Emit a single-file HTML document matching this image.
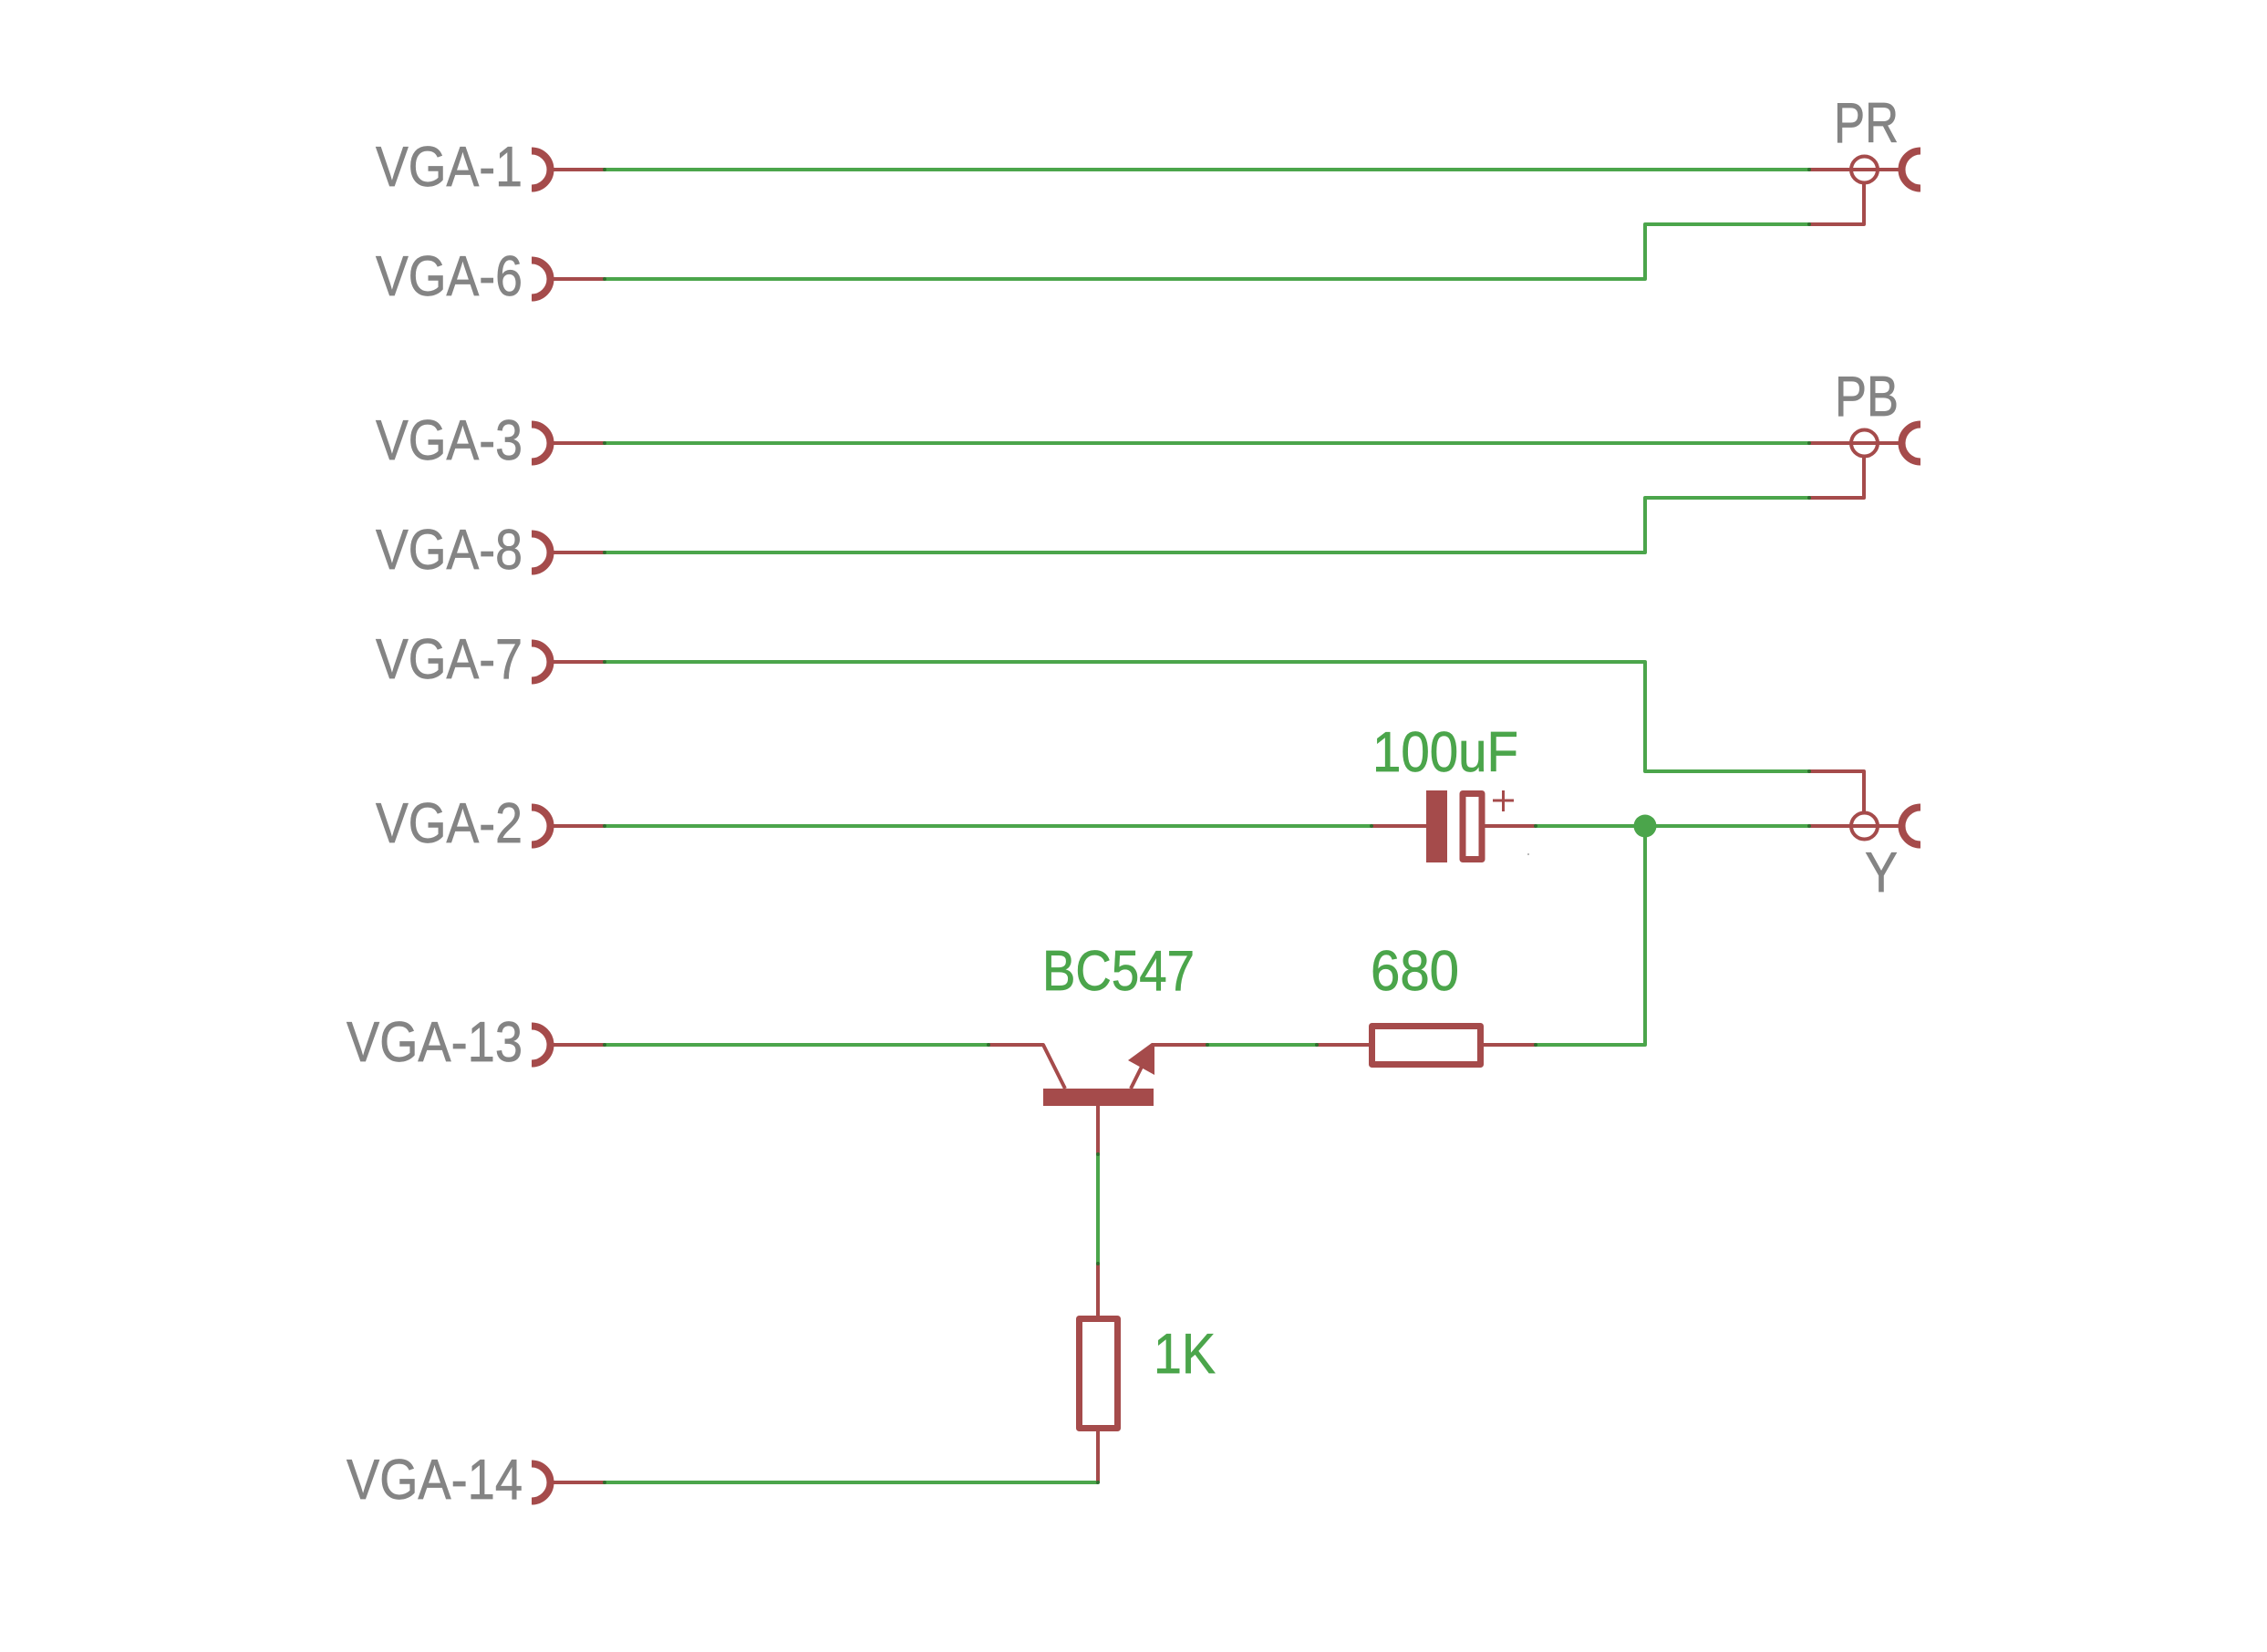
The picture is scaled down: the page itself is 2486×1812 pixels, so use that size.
<!DOCTYPE html>
<html><head><meta charset="utf-8"><title>VGA schematic</title>
<style>html,body{margin:0;padding:0;background:#fff}svg{display:block}
text{font-family:"Liberation Sans",sans-serif;font-size:62px;stroke-width:.7px}
.g{fill:#848484;stroke:#848484}.t{fill:#4ba54b;stroke:#4ba54b}</style></head><body>
<svg xmlns="http://www.w3.org/2000/svg" width="2486" height="1812" viewBox="0 0 2486 1812">
<rect width="2486" height="1812" fill="#fff"/>
<g fill="none" stroke="#4ba54b" stroke-width="4" stroke-linejoin="round">
<path d="M663 186H1984"/>
<path d="M663 306H1804V246H1984"/>
<path d="M663 486H1984"/>
<path d="M663 606H1804V546H1984"/>
<path d="M663 726H1804V846H1984"/>
<path d="M663 906H1504"/>
<path d="M1684 906H1984"/>
<path d="M663 1146H1084"/>
<path d="M1324 1146H1444"/>
<path d="M1684 1146H1804V906"/>
<path d="M1204 1266V1386"/>
<path d="M663 1626H1204"/>
</g>
<circle cx="1804" cy="906" r="12.5" fill="#4ba54b"/>
<g fill="none" stroke="#a54b4b" stroke-width="4" stroke-linejoin="round">
<path d="M607 186H663M607 306H663M607 486H663M607 606H663M607 726H663M607 906H663M607 1146H663M607 1626H663"/>
<path d="M1984 186H2082M1984 246H2044V200"/>
<path d="M1984 486H2082M1984 546H2044V500"/>
<path d="M1984 906H2082M1984 846H2044V890"/>
<circle cx="2044.500" cy="186" r="14.5"/>
<circle cx="2044.500" cy="486" r="14.5"/>
<circle cx="2044.500" cy="906" r="14.5"/>
<path d="M1504 906H1564M1628 906H1684"/>
<path d="M1084 1146H1144L1168 1194M1240 1194L1264 1146H1324"/>
<path d="M1204 1213V1266"/>
<path d="M1444 1146H1504M1624 1146H1684"/>
<path d="M1204 1386V1446M1204 1566V1626"/>
</g>
<g fill="none" stroke="#a54b4b" stroke-width="8">
<path d="M583 165.500A20.500 20.500 0 0 1 583 206.500M583 285.500A20.500 20.500 0 0 1 583 326.500M583 465.500A20.500 20.500 0 0 1 583 506.500M583 585.500A20.500 20.500 0 0 1 583 626.500M583 705.500A20.500 20.500 0 0 1 583 746.500M583 885.500A20.500 20.500 0 0 1 583 926.500M583 1125.500A20.500 20.500 0 0 1 583 1166.500M583 1605.500A20.500 20.500 0 0 1 583 1646.500"/>
<path d="M2106 165.500A20.500 20.500 0 0 0 2106 206.500M2106 465.500A20.500 20.500 0 0 0 2106 506.500M2106 885.500A20.500 20.500 0 0 0 2106 926.500"/>
</g>
<g fill="none" stroke="#a54b4b" stroke-width="7" stroke-linejoin="round">
<rect x="1604" y="870.500" width="21" height="72"/>
<rect x="1504.500" y="1125.500" width="119" height="42"/>
<rect x="1183.500" y="1446.500" width="42" height="120"/>
</g>
<g fill="#a54b4b">
<rect x="1564" y="867" width="23" height="79"/>
<rect x="1144" y="1194" width="121" height="19"/>
<path d="M1263 1144H1266V1179L1237 1163Z"/>
<rect x="1637" y="876.500" width="23" height="3"/>
<rect x="1647" y="867" width="3" height="23"/>
</g>
<rect x="1675" y="936" width="2" height="2" fill="#bbb"/>
<g fill="#2f6e2f">
<circle cx="663" cy="186" r="2"/><circle cx="663" cy="306" r="2"/><circle cx="663" cy="486" r="2"/><circle cx="663" cy="606" r="2"/><circle cx="663" cy="726" r="2"/><circle cx="663" cy="906" r="2"/><circle cx="663" cy="1146" r="2"/><circle cx="663" cy="1626" r="2"/>
<circle cx="1984" cy="186" r="2"/><circle cx="1984" cy="246" r="2"/><circle cx="1984" cy="486" r="2"/><circle cx="1984" cy="546" r="2"/><circle cx="1984" cy="846" r="2"/><circle cx="1984" cy="906" r="2"/>
<circle cx="1504" cy="906" r="2"/><circle cx="1684" cy="906" r="2"/>
<circle cx="1084" cy="1146" r="2"/><circle cx="1324" cy="1146" r="2"/><circle cx="1444" cy="1146" r="2"/><circle cx="1684" cy="1146" r="2"/>
<circle cx="1204" cy="1266" r="2"/><circle cx="1204" cy="1386" r="2"/><circle cx="1204" cy="1626" r="2"/>
</g>
<g class="g">
<text x="412" y="204" textLength="161" lengthAdjust="spacingAndGlyphs">VGA-1</text>
<text x="412" y="324" textLength="161" lengthAdjust="spacingAndGlyphs">VGA-6</text>
<text x="412" y="504" textLength="161" lengthAdjust="spacingAndGlyphs">VGA-3</text>
<text x="412" y="624" textLength="161" lengthAdjust="spacingAndGlyphs">VGA-8</text>
<text x="412" y="744" textLength="161" lengthAdjust="spacingAndGlyphs">VGA-7</text>
<text x="412" y="924" textLength="161" lengthAdjust="spacingAndGlyphs">VGA-2</text>
<text x="380" y="1164" textLength="193" lengthAdjust="spacingAndGlyphs">VGA-13</text>
<text x="380" y="1644" textLength="193" lengthAdjust="spacingAndGlyphs">VGA-14</text>
<text x="2011" y="156" textLength="71" lengthAdjust="spacingAndGlyphs">PR</text>
<text x="2012" y="456" textLength="70" lengthAdjust="spacingAndGlyphs">PB</text>
<text x="2045" y="978" textLength="36" lengthAdjust="spacingAndGlyphs">Y</text>
</g>
<g class="t">
<text x="1505" y="846" textLength="160" lengthAdjust="spacingAndGlyphs">100uF</text>
<text x="1143" y="1086" textLength="167" lengthAdjust="spacingAndGlyphs">BC547</text>
<text x="1503" y="1086" textLength="97" lengthAdjust="spacingAndGlyphs">680</text>
<text x="1265" y="1506" textLength="68" lengthAdjust="spacingAndGlyphs">1K</text>
</g>
</svg>
</body></html>
